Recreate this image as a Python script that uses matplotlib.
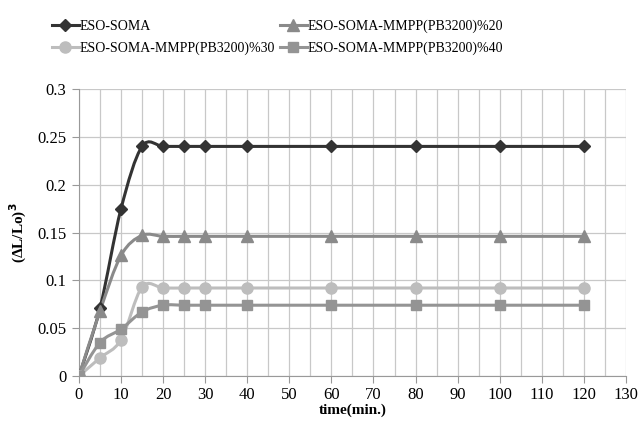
import numpy as np
import matplotlib
matplotlib.use('Agg')
import matplotlib.pyplot as plt
from matplotlib.path import Path
from matplotlib.patches import PathPatch
from matplotlib.lines import Line2D

plt.rcParams['font.family'] = ['Liberation Serif', 'DejaVu Serif']

time = [0, 5, 10, 15, 20, 25, 30, 40, 60, 80, 100, 120]
eso_soma = [0, 0.071, 0.175, 0.240, 0.240, 0.240, 0.240, 0.240, 0.240, 0.240, 0.240, 0.240]
mmpp20 = [0, 0.068, 0.126, 0.147, 0.146, 0.146, 0.146, 0.146, 0.146, 0.146, 0.146, 0.146]
mmpp30 = [0, 0.019, 0.038, 0.093, 0.092, 0.092, 0.092, 0.092, 0.092, 0.092, 0.092, 0.092]
mmpp40 = [0, 0.035, 0.049, 0.067, 0.074, 0.074, 0.074, 0.074, 0.074, 0.074, 0.074, 0.074]

labels = ['ESO-SOMA', 'ESO-SOMA-MMPP(PB3200)%20',
          'ESO-SOMA-MMPP(PB3200)%30', 'ESO-SOMA-MMPP(PB3200)%40']
series = [eso_soma, mmpp20, mmpp30, mmpp40]
colors = ['#333333', '#8a8a8a', '#bdbdbd', '#949494']
markers = ['D', '^', 'o', 's']
msizes = [6.5, 8, 8, 7.5]


def smooth_path(x, y):
    # Excel style smoothed line: cubic bezier through the points
    x = np.asarray(x, float)
    y = np.asarray(y, float)
    n = len(x)
    verts = [(x[0], y[0])]
    codes = [Path.MOVETO]
    for i in range(n - 1):
        p0 = np.array([x[max(i - 1, 0)], y[max(i - 1, 0)]])
        p1 = np.array([x[i], y[i]])
        p2 = np.array([x[i + 1], y[i + 1]])
        p3 = np.array([x[min(i + 2, n - 1)], y[min(i + 2, n - 1)]])
        c1 = p1 + (p2 - p0) / 6.0
        c2 = p2 - (p3 - p1) / 6.0
        verts += [tuple(c1), tuple(c2), tuple(p2)]
        codes += [Path.CURVE4] * 3
    return Path(verts, codes)


fig = plt.figure(figsize=(6.4, 4.42), dpi=100)
ax = fig.add_axes([0.1234, 0.1493, 0.8546, 0.6493])

for vals, c, m, ms in zip(series, colors, markers, msizes):
    ax.add_patch(PathPatch(smooth_path(time, vals), facecolor='none',
                           edgecolor=c, lw=2.2, zorder=3))
    ax.plot(time, vals, linestyle='none', marker=m, color=c, ms=ms, zorder=4)

ax.set_xlim(0, 130)
ax.set_ylim(0, 0.3)
ax.set_xticks(np.arange(0, 131, 10))
ax.set_xticks(np.arange(0, 131, 5), minor=True)
ax.set_yticks(np.arange(0, 0.301, 0.05))
ax.set_yticklabels(['0', '0.05', '0.1', '0.15', '0.2', '0.25', '0.3'])
ax.grid(True, which='both', color='#c8c8c8', lw=0.9)
ax.set_axisbelow(True)
for s in ['top', 'right']:
    ax.spines[s].set_visible(False)
for s in ['left', 'bottom']:
    ax.spines[s].set_color('#999999')
ax.tick_params(which='both', length=5, color='#999999', labelsize=12)
ax.tick_params(axis='x', pad=3)
ax.tick_params(axis='y', pad=4)
ax.tick_params(axis='x', which='minor', length=0)

ax.set_xlabel('time(min.)', fontsize=11, fontweight='bold', labelpad=0)
ax.set_ylabel(r'(ΔL/Lo)$^\mathbf{3}$', fontsize=11, fontweight='bold', labelpad=6)

handles = [Line2D([], [], color=c, marker=m, ms=ms, lw=2.2)
           for c, m, ms in zip(colors, markers, msizes)]
order = [0, 2, 1, 3]
fig.legend([handles[i] for i in order], [labels[i] for i in order],
           loc='upper left', bbox_to_anchor=(0.062, 0.983),
           ncol=2, frameon=False, fontsize=10, handlelength=1.9,
           handletextpad=0.05, columnspacing=0.4, labelspacing=0.6)

fig.savefig('out.png', dpi=100)
